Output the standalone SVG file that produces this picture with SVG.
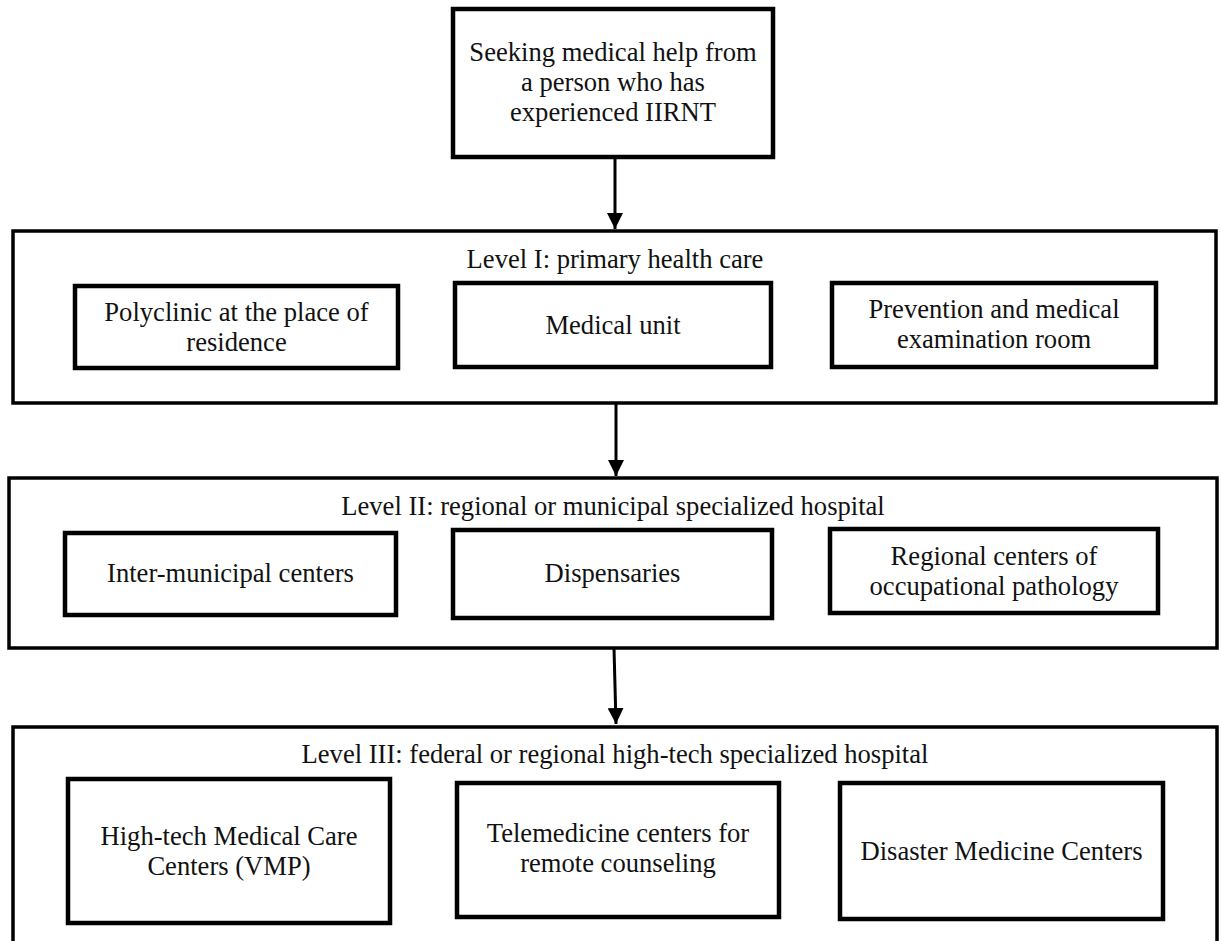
<svg xmlns="http://www.w3.org/2000/svg" width="1221" height="941" viewBox="0 0 1221 941">
<style>
  text { font-family: "Liberation Serif", "Times New Roman", serif; font-size: 26.6px; fill: #111; text-anchor: middle; }
  .outer { fill: none; stroke: #000; stroke-width: 3.5; }
  .inner { fill: #fff; stroke: #000; stroke-width: 4.5; }
  .conn { stroke: #000; stroke-width: 3; fill: none; marker-end: url(#arrow); }
</style>
<defs>
  <marker id="arrow" markerUnits="userSpaceOnUse" viewBox="0 0 16 16" refX="16" refY="8" markerWidth="16" markerHeight="16" orient="auto">
    <path d="M0,0 L16,8 L0,16 z" fill="#000"/>
  </marker>
</defs>
<rect width="1221" height="941" fill="#fff"/>

<g id="start">
  <rect class="inner" x="453" y="9" width="320" height="148"/>
  <text x="613" y="61">Seeking medical help from</text>
  <text x="613" y="91">a person who has</text>
  <text x="613" y="121">experienced IIRNT</text>
</g>

<g id="level1">
  <rect class="outer" x="13" y="231" width="1203" height="172"/>
  <text x="615" y="268">Level I: primary health care</text>
</g>
<g id="polyclinic">
  <rect class="inner" x="75" y="286" width="323" height="82"/>
  <text x="236.5" y="321">Polyclinic at the place of</text>
  <text x="236.5" y="351">residence</text>
</g>
<g id="medical-unit">
  <rect class="inner" x="455" y="283" width="316" height="84"/>
  <text x="613" y="334">Medical unit</text>
</g>
<g id="prevention">
  <rect class="inner" x="832" y="283" width="324" height="84"/>
  <text x="994" y="318">Prevention and medical</text>
  <text x="994" y="348">examination room</text>
</g>

<g id="level2">
  <rect class="outer" x="9" y="478" width="1208" height="170"/>
  <text x="613" y="515">Level II: regional or municipal specialized hospital</text>
</g>
<g id="inter-municipal">
  <rect class="inner" x="65" y="533" width="331" height="82"/>
  <text x="230.5" y="582">Inter-municipal centers</text>
</g>
<g id="dispensaries">
  <rect class="inner" x="453" y="530" width="319" height="88"/>
  <text x="612.5" y="582">Dispensaries</text>
</g>
<g id="regional-centers">
  <rect class="inner" x="830" y="529" width="328" height="84"/>
  <text x="994" y="565">Regional centers of</text>
  <text x="994" y="595">occupational pathology</text>
</g>

<g id="level3">
  <rect class="outer" x="13" y="727" width="1204" height="240"/>
  <text x="615" y="763">Level III: federal or regional high-tech specialized hospital</text>
</g>
<g id="high-tech">
  <rect class="inner" x="68" y="779" width="322" height="144"/>
  <text x="229" y="845">High-tech Medical Care</text>
  <text x="229" y="875">Centers (VMP)</text>
</g>
<g id="telemedicine">
  <rect class="inner" x="457" y="783" width="322" height="134"/>
  <text x="618" y="842">Telemedicine centers for</text>
  <text x="618" y="872">remote counseling</text>
</g>
<g id="disaster">
  <rect class="inner" x="840" y="783" width="323" height="136"/>
  <text x="1001.5" y="860">Disaster Medicine Centers</text>
</g>

<g id="connectors">
  <line class="conn" x1="615" y1="157" x2="615" y2="229"/>
  <line class="conn" x1="616" y1="403" x2="616" y2="476"/>
  <line class="conn" x1="614" y1="648" x2="616" y2="724"/>
</g>
</svg>
